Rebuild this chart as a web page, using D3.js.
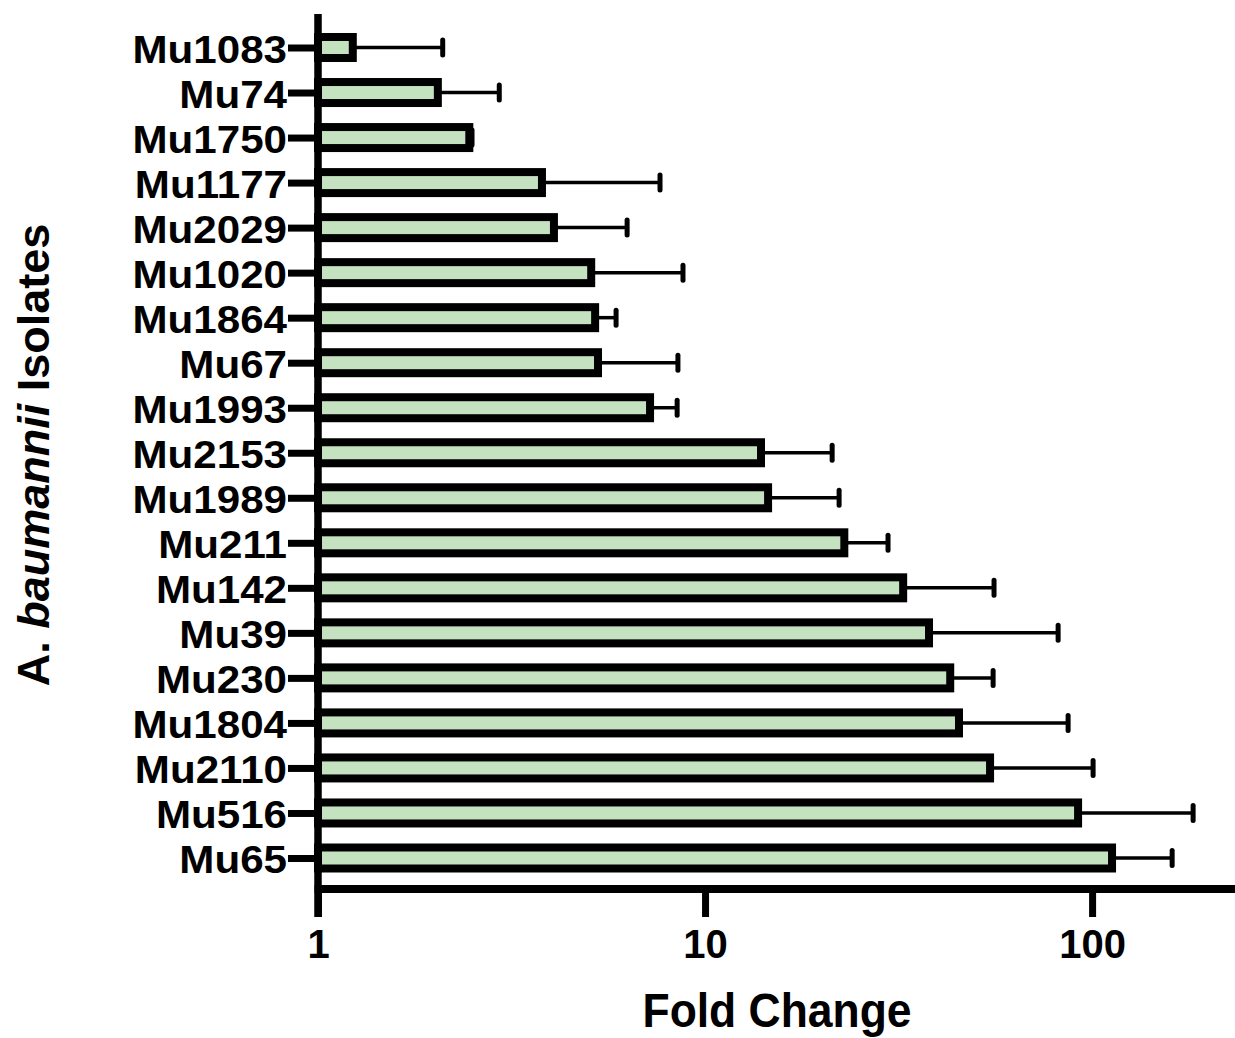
<!DOCTYPE html>
<html>
<head>
<meta charset="utf-8">
<script src="https://cdn.jsdelivr.net/npm/d3@7"></script>
<style>
  html, body { margin: 0; padding: 0; background: #fff; }
  svg { display: block; font-family: "Liberation Sans", Arial, Helvetica, sans-serif; font-weight: bold; }
</style>
</head>
<body>
<div id="chart"></div>
<script>
// isolates, top to bottom
const isolates = ['Mu1083', 'Mu74', 'Mu1750', 'Mu1177', 'Mu2029', 'Mu1020', 'Mu1864', 'Mu67',
  'Mu1993', 'Mu2153', 'Mu1989', 'Mu211', 'Mu142', 'Mu39', 'Mu230', 'Mu1804', 'Mu2110', 'Mu516', 'Mu65'];

// mean fold change
const foldMean = [1.23, 2.04, 2.46, 3.79, 4.07, 5.08, 5.20, 5.29,
  7.21, 13.95, 14.55, 22.9, 32.5, 37.9, 43.0, 45.3, 54.5, 92.0, 112.6];

// upper end of the error bar
const foldUpper = [2.10, 2.94, 2.50, 7.65, 6.29, 8.77, 5.89, 8.51,
  8.47, 21.3, 22.2, 29.7, 55.8, 81.7, 55.5, 86.7, 100.6, 182.4, 161];

const xTicks = [1, 10, 100];

const width = 1235, height = 1038;
const x0 = 318, x1 = 1235;
const axisY = 889;

const svg = d3.select('#chart').append('svg')
  .attr('width', width)
  .attr('height', height);

const x = d3.scaleLog().domain([1, 234]).range([x0, x1]);
const y = d3.scalePoint().domain(isolates).range([47.5, 858]);

const rows = isolates.map((name, i) => ({ name, mean: foldMean[i], upper: foldUpper[i] }));

// error bars (behind bars)
const err = svg.append('g');
err.selectAll('line.whisker')
  .data(rows)
  .join('line')
  .attr('class', 'whisker')
  .attr('x1', d => x(d.mean))
  .attr('x2', d => x(d.upper))
  .attr('y1', d => y(d.name))
  .attr('y2', d => y(d.name))
  .attr('stroke', '#000')
  .attr('stroke-width', 3.5);
err.selectAll('line.cap')
  .data(rows)
  .join('line')
  .attr('class', 'cap')
  .attr('x1', d => x(d.upper))
  .attr('x2', d => x(d.upper))
  .attr('y1', d => y(d.name) - 7.5)
  .attr('y2', d => y(d.name) + 7.5)
  .attr('stroke', '#000')
  .attr('stroke-width', 5)
  .attr('stroke-linecap', 'round');

// bars
const barH = 21;
svg.append('g').selectAll('rect')
  .data(rows)
  .join('rect')
  .attr('x', x(1))
  .attr('y', d => y(d.name) - barH / 2)
  .attr('width', d => x(d.mean) - x(1))
  .attr('height', barH)
  .attr('fill', '#c5e2c0')
  .attr('stroke', '#000')
  .attr('stroke-width', 8);

// y axis
const labelScale = 1.08;
const yAxis = svg.append('g')
  .attr('transform', `translate(${x0},0)`)
  .call(d3.axisLeft(y).tickSize(30).tickPadding(0));
yAxis.select('.domain').remove();
yAxis.selectAll('.tick line').attr('stroke', '#000').attr('stroke-width', 7);
yAxis.selectAll('.tick text')
  .attr('fill', '#000')
  .attr('font-size', 39)
  .attr('font-family', '"Liberation Sans", Arial, sans-serif')
  .attr('font-weight', 'bold')
  .attr('x', -31 / labelScale)
  .attr('dy', '0.38em')
  .attr('transform', `scale(${labelScale},1)`);

svg.append('line')
  .attr('x1', x0).attr('x2', x0)
  .attr('y1', 14).attr('y2', axisY + 28)
  .attr('stroke', '#000')
  .attr('stroke-width', 7.5);

// x axis
const xAxis = svg.append('g')
  .attr('transform', `translate(0,${axisY})`)
  .call(d3.axisBottom(x).tickValues(xTicks).tickFormat(d3.format('d')).tickSize(28));
xAxis.select('.domain').remove();
xAxis.selectAll('.tick line').attr('stroke', '#000').attr('stroke-width', 7);
xAxis.selectAll('.tick text')
  .attr('fill', '#000')
  .attr('font-size', 40)
  .attr('font-family', '"Liberation Sans", Arial, sans-serif')
  .attr('font-weight', 'bold')
  .attr('y', 69)
  .attr('dy', 0);

svg.append('line')
  .attr('x1', x0 - 3.5).attr('x2', x1)
  .attr('y1', axisY).attr('y2', axisY)
  .attr('stroke', '#000')
  .attr('stroke-width', 8);

// axis titles
svg.append('text')
  .attr('x', 777)
  .attr('y', 1027)
  .attr('text-anchor', 'middle')
  .attr('font-size', 48)
  .attr('textLength', 269)
  .attr('lengthAdjust', 'spacingAndGlyphs')
  .text('Fold Change');

const yTitle = svg.append('text')
  .attr('transform', 'translate(49,455) rotate(-90)')
  .attr('text-anchor', 'middle')
  .attr('font-size', 45);
yTitle.append('tspan').text('A. ');
yTitle.append('tspan').attr('font-style', 'italic').text('baumannii');
yTitle.append('tspan').text(' Isolates');
</script>
</body>
</html>
